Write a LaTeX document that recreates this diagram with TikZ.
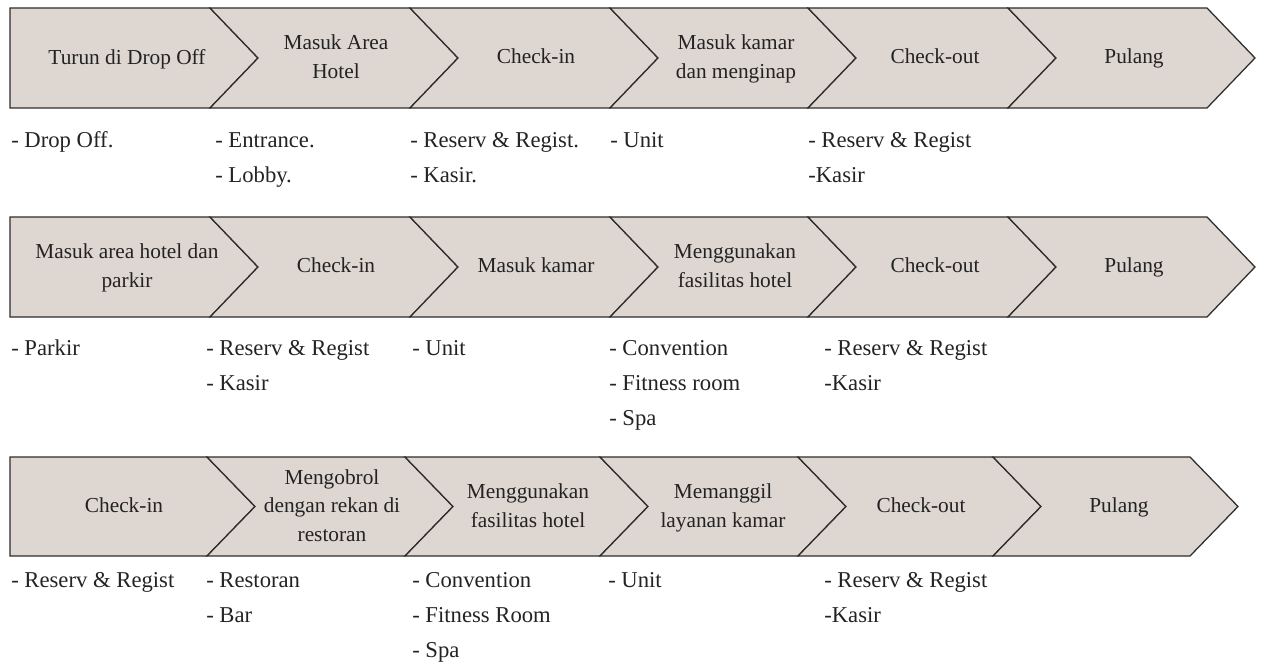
\documentclass[tikz,border=0pt]{standalone}
\usepackage{fontspec}
\setmainfont{Liberation Serif}
\definecolor{segfill}{RGB}{221,214,209}
\definecolor{segline}{RGB}{45,45,45}
\definecolor{txt}{RGB}{35,35,35}
\tikzset{
  segbox/.style={fill=segfill, draw=segline, line width=0.95pt, line join=miter},
  boxtext/.style={align=center, text=txt, inner sep=0pt, text depth=0.22em, font=\fontsize{16}{21.5}\selectfont},
  itemtext/.style={anchor=base west, text=txt, inner sep=0pt, font=\fontsize{17}{20}\selectfont}
}
\newcommand{\chevseg}[5]{\draw[segbox] (#1,#3) -- (#2,#3) -- ({#2+48},#4) -- (#2,#5) -- (#1,#5) -- ({#1+48},#4) -- cycle;}
\newcommand{\chevfirst}[5]{\draw[segbox] (#1,#3) -- (#2,#3) -- ({#2+48},#4) -- (#2,#5) -- (#1,#5) -- cycle;}
\begin{document}
\begin{tikzpicture}[x=0.75pt, y=-0.75pt]
\useasboundingbox (0,0) rectangle (1262,663);
% ---------- Row 1 ----------
\chevfirst{10}{210}{8}{58}{108}
\chevseg{210}{410}{8}{58}{108}
\chevseg{410}{610}{8}{58}{108}
\chevseg{610}{808}{8}{58}{108}
\chevseg{808}{1008}{8}{58}{108}
\chevseg{1008}{1207}{8}{58}{108}
\node[boxtext] (a1) at (127,58) {Turun di Drop Off};
\node[boxtext] (a2) at (336,58) {Masuk Area\\Hotel};
\node[boxtext] (a3) at (536,58) {Check-in};
\node[boxtext] (a4) at (736,58) {Masuk kamar\\dan menginap};
\node[boxtext] (a5) at (935,58) {Check-out};
\node[boxtext] (a6) at (1134,58) {Pulang};
\node[itemtext] (a1i1) at (11,147) {- Drop Off.};
\node[itemtext] (a2i1) at (215,147) {- Entrance.};
\node[itemtext] (a2i2) at (215,182) {- Lobby.};
\node[itemtext] (a3i1) at (410,147) {- Reserv \& Regist.};
\node[itemtext] (a3i2) at (410,182) {- Kasir.};
\node[itemtext] (a4i1) at (610,147) {- Unit};
\node[itemtext] (a5i1) at (808,147) {- Reserv \& Regist};
\node[itemtext] (a5i2) at (808,182) {-Kasir};
% ---------- Row 2 ----------
\chevfirst{10}{210}{217}{267}{317}
\chevseg{210}{410}{217}{267}{317}
\chevseg{410}{610}{217}{267}{317}
\chevseg{610}{808}{217}{267}{317}
\chevseg{808}{1008}{217}{267}{317}
\chevseg{1008}{1207}{217}{267}{317}
\node[boxtext] (b1) at (127,267) {Masuk area hotel dan\\parkir};
\node[boxtext] (b2) at (336,267) {Check-in};
\node[boxtext] (b3) at (536,267) {Masuk kamar};
\node[boxtext] (b4) at (735,267) {Menggunakan\\fasilitas hotel};
\node[boxtext] (b5) at (935,267) {Check-out};
\node[boxtext] (b6) at (1134,267) {Pulang};
\node[itemtext] (b1i1) at (11,355) {- Parkir};
\node[itemtext] (b2i1) at (206,355) {- Reserv \& Regist};
\node[itemtext] (b2i2) at (206,390) {- Kasir};
\node[itemtext] (b3i1) at (412,355) {- Unit};
\node[itemtext] (b4i1) at (609,355) {- Convention};
\node[itemtext] (b4i2) at (609,390) {- Fitness room};
\node[itemtext] (b4i3) at (609,425) {- Spa};
\node[itemtext] (b5i1) at (824,355) {- Reserv \& Regist};
\node[itemtext] (b5i2) at (824,390) {-Kasir};
% ---------- Row 3 ----------
\chevfirst{10}{207}{457}{506.5}{556}
\chevseg{207}{405}{457}{506.5}{556}
\chevseg{405}{600}{457}{506.5}{556}
\chevseg{600}{798}{457}{506.5}{556}
\chevseg{798}{993}{457}{506.5}{556}
\chevseg{993}{1190}{457}{506.5}{556}
\node[boxtext] (c1) at (124,507) {Check-in};
\node[boxtext] (c2) at (332,507) {Mengobrol\\dengan rekan di\\restoran};
\node[boxtext] (c3) at (528,507) {Menggunakan\\fasilitas hotel};
\node[boxtext] (c4) at (723,507) {Memanggil\\layanan kamar};
\node[boxtext] (c5) at (921,507) {Check-out};
\node[boxtext] (c6) at (1119,507) {Pulang};
\node[itemtext] (c1i1) at (11,587) {- Reserv \& Regist};
\node[itemtext] (c2i1) at (206,587) {- Restoran};
\node[itemtext] (c2i2) at (206,622) {- Bar};
\node[itemtext] (c3i1) at (412,587) {- Convention};
\node[itemtext] (c3i2) at (412,622) {- Fitness Room};
\node[itemtext] (c3i3) at (412,657) {- Spa};
\node[itemtext] (c4i1) at (608,587) {- Unit};
\node[itemtext] (c5i1) at (824,587) {- Reserv \& Regist};
\node[itemtext] (c5i2) at (824,622) {-Kasir};
\end{tikzpicture}
\end{document}
